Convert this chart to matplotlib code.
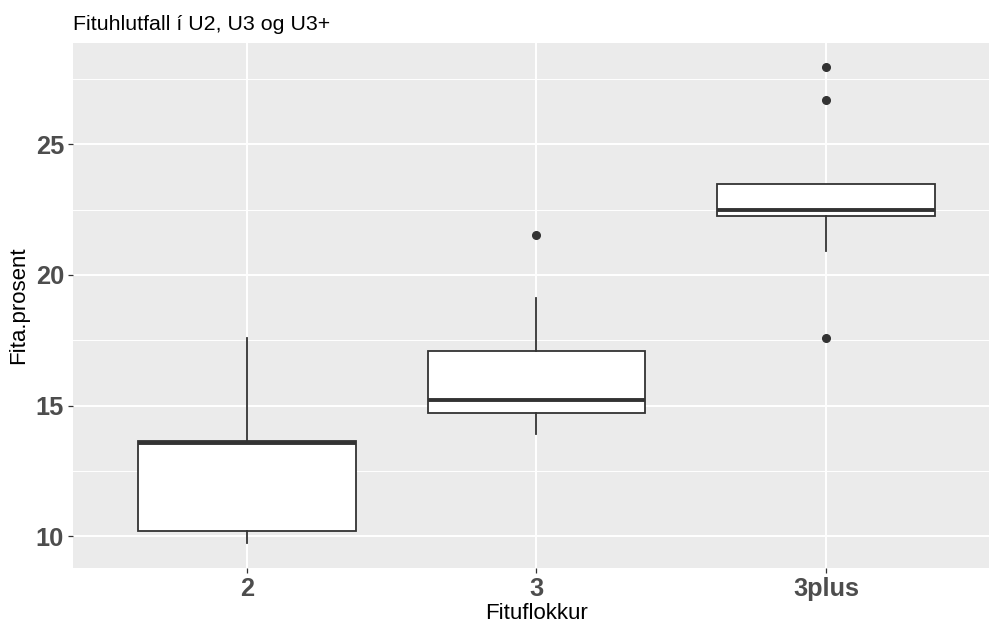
import matplotlib.pyplot as plt
from matplotlib.ticker import MultipleLocator

plt.rcParams['font.family'] = ['Liberation Sans', 'DejaVu Sans']

# values
flokkar = ['2', '3', '3plus']
neðri_skegg = [9.73, 13.93, 20.93]
q1 = [10.21, 14.73, 22.26]
miðgildi = [13.58, 15.20, 22.49]
q3 = [13.64, 17.10, 23.48]
efri_skegg = [17.60, 19.13, 23.48]
útlagar = [[], [21.54], [27.97, 26.69, 17.57]]

stats = []
for i, f in enumerate(flokkar):
    stats.append({
        'label': f, 'whislo': neðri_skegg[i], 'q1': q1[i], 'med': miðgildi[i],
        'q3': q3[i], 'whishi': efri_skegg[i], 'fliers': útlagar[i],
    })

dark = '#333333'
fig = plt.figure(figsize=(9.89, 6.23), dpi=100)
ax = fig.add_axes([0.0741, 0.0883, 0.9259, 0.8432])
ax.set_facecolor('#EBEBEB')

ax.bxp(stats, positions=[1, 2, 3], widths=0.75, showcaps=False, patch_artist=True,
       boxprops=dict(facecolor='white', edgecolor=dark, linewidth=1.3),
       medianprops=dict(color=dark, linewidth=2.8),
       whiskerprops=dict(color=dark, linewidth=1.3),
       flierprops=dict(marker='o', markerfacecolor=dark, markeredgecolor=dark, markersize=5.5),
       zorder=3)

ax.set_xlim(0.4, 3.563)
ax.set_ylim(8.787, 28.89)
ax.yaxis.set_major_locator(MultipleLocator(5))
ax.yaxis.set_minor_locator(MultipleLocator(2.5))
ax.set_yticks([10, 15, 20, 25])
ax.grid(True, which='major', color='white', linewidth=1.4, zorder=0)
ax.grid(True, which='minor', axis='y', color='white', linewidth=0.7, zorder=0)
ax.set_axisbelow(True)
for s in ax.spines.values():
    s.set_visible(False)

ax.tick_params(which='major', length=3.3, width=0.9, color=dark, pad=3.3,
               labelsize=18.3, labelcolor='#4D4D4D')
ax.tick_params(which='minor', length=0)
for lab in ax.get_xticklabels() + ax.get_yticklabels():
    lab.set_fontweight('bold')

ax.set_xlabel('Fituflokkur', fontsize=16, color='black')
ax.xaxis.set_label_coords(0.506, -0.067)
ax.set_ylabel('Fita.prosent', fontsize=16, color='black', labelpad=5)
fig.text(0.0741, 0.952, 'Fituhlutfall í U2, U3 og U3+', fontsize=15.4, ha='left', va='baseline')

fig.savefig('out.png', dpi=100)
